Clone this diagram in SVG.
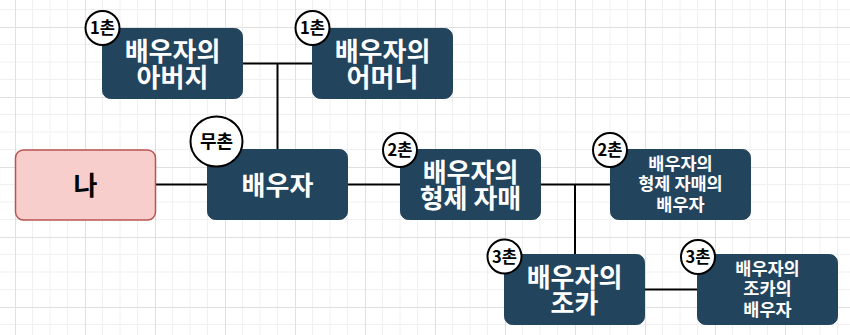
<svg xmlns="http://www.w3.org/2000/svg" width="850" height="335" viewBox="0 0 850 335">
  <style>
    .box { fill: #23445d; stroke: #23445d; stroke-width: 1; }
    .me { fill: #f8cecc; stroke: #b85450; stroke-width: 1.5; }
    .lbl { font-family: "Noto Sans CJK KR", "Noto Sans", sans-serif; font-weight: bold; fill: #ffffff; text-anchor: middle; }
    .big { font-size: 26px; }
    .small { font-size: 17.5px; }
    .dark { fill: #000000; }
    .badge { fill: #ffffff; stroke: #000000; stroke-width: 2; }
    .btxt { font-family: "Noto Sans CJK KR", "Noto Sans", sans-serif; font-weight: bold; font-size: 16.5px; fill: #000000; text-anchor: middle; }
    .conn { fill: none; stroke: #000000; stroke-width: 2; }
  </style>
  <defs>
    <pattern id="grid" patternUnits="userSpaceOnUse" x="15" y="27" width="70" height="70">
      <path d="M17.5 0V70M35 0V70M52.5 0V70M0 17.5H70M0 35H70M0 52.5H70" stroke="#f0f0f0" stroke-width="1" fill="none"/>
      <path d="M0.5 0V70M0 0.5H70" stroke="#e0e0e0" stroke-width="1" fill="none"/>
    </pattern>
  </defs>
  <rect width="850" height="335" fill="#ffffff"/>
  <rect width="850" height="335" fill="url(#grid)"/>

  <g id="connectors">
    <path class="conn" d="M242.5 63.5H312.5"/>
    <path class="conn" d="M277.5 63.5V149.5"/>
    <path class="conn" d="M155.5 184.5H207.5"/>
    <path class="conn" d="M347.5 184.5H400.5"/>
    <path class="conn" d="M540.5 184.5H610.5"/>
    <path class="conn" d="M575 184.5V254.5"/>
    <path class="conn" d="M644.5 289.5H697.5"/>
  </g>

  <g id="me">
    <rect class="me" x="15.5" y="150" width="140" height="70" rx="8"/>
    <text class="lbl big dark" x="85.5" y="195">나</text>
  </g>

  <g id="spouse-father">
    <rect class="box" x="102.5" y="28.5" width="140" height="70" rx="8"/>
    <text class="lbl big" x="172.5" y="60.5">배우자의<tspan x="172.5" dy="26">아버지</tspan></text>
    <circle class="badge" cx="102.5" cy="28" r="17"/>
    <text class="btxt" x="102.5" y="34">1촌</text>
  </g>

  <g id="spouse-mother">
    <rect class="box" x="312.5" y="28.5" width="140" height="70" rx="8"/>
    <text class="lbl big" x="382.5" y="60.5">배우자의<tspan x="382.5" dy="26">어머니</tspan></text>
    <circle class="badge" cx="312.5" cy="28" r="17"/>
    <text class="btxt" x="312.5" y="34">1촌</text>
  </g>

  <g id="spouse">
    <rect class="box" x="207.5" y="149.5" width="140" height="70" rx="8"/>
    <text class="lbl big" x="277.5" y="194.5">배우자</text>
    <ellipse class="badge" cx="216.5" cy="141.5" rx="26" ry="25"/>
    <text class="btxt" x="216.5" y="148" style="font-size:18px">무촌</text>
  </g>

  <g id="spouse-sibling">
    <rect class="box" x="400.5" y="149.5" width="140" height="70" rx="8"/>
    <text class="lbl big" x="470.5" y="181.5">배우자의<tspan x="470.5" dy="26">형제 자매</tspan></text>
    <circle class="badge" cx="400" cy="150" r="17"/>
    <text class="btxt" x="400" y="156">2촌</text>
  </g>

  <g id="spouse-sibling-spouse">
    <rect class="box" x="610.5" y="149.5" width="140" height="70" rx="8"/>
    <text class="lbl small" x="680.5" y="170">배우자의<tspan x="680.5" dy="20">형제 자매의</tspan><tspan x="680.5" dy="21">배우자</tspan></text>
    <circle class="badge" cx="610" cy="150" r="17"/>
    <text class="btxt" x="610" y="156">2촌</text>
  </g>

  <g id="spouse-nephew">
    <rect class="box" x="504.5" y="254.5" width="140" height="70" rx="8"/>
    <text class="lbl big" x="574.5" y="286.5">배우자의<tspan x="574.5" dy="26">조카</tspan></text>
    <circle class="badge" cx="504.5" cy="256.5" r="17"/>
    <text class="btxt" x="504.5" y="262.5">3촌</text>
  </g>

  <g id="spouse-nephew-spouse">
    <rect class="box" x="697.5" y="254.5" width="140" height="70" rx="8"/>
    <text class="lbl small" x="767.5" y="275">배우자의<tspan x="767.5" dy="20">조카의</tspan><tspan x="767.5" dy="21">배우자</tspan></text>
    <circle class="badge" cx="698" cy="257" r="17"/>
    <text class="btxt" x="698" y="263">3촌</text>
  </g>
</svg>
